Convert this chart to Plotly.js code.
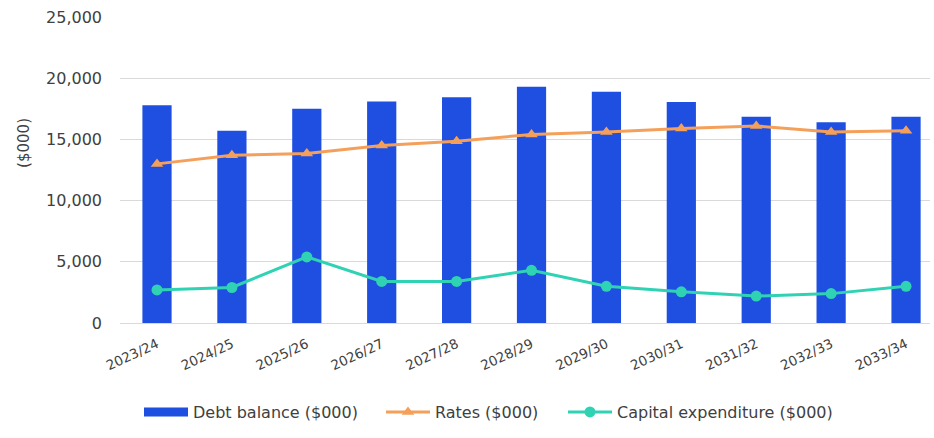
<!DOCTYPE html>
<html><head><meta charset="utf-8">
<script src="https://cdn.plot.ly/plotly-3.0.1.min.js"></script>
<style>html,body{margin:0;padding:0;background:#fff}#c{width:934px;height:438px}</style>
</head><body><div id="c"></div>
<script>
const categories = ["2023/24","2024/25","2025/26","2026/27","2027/28","2028/29","2029/30","2030/31","2031/32","2032/33","2033/34"];
const debtBalance = [17800,15700,17500,18100,18450,19300,18900,18050,16850,16400,16850];
const rates = [13000,13700,13850,14500,14850,15400,15600,15900,16100,15600,15700];
const capex = [2700,2900,5400,3400,3400,4300,3000,2550,2200,2400,3000];
const yTicks = [0,5000,10000,15000,20000,25000];
const yTickLabels = ["0","5,000","10,000","15,000","20,000","25,000"];

const fontFam = "'DejaVu Sans', sans-serif";
const blue = '#1f4fe0', orange = '#f5a05a', teal = '#2fd3b3';
const traces = [
  {type:'bar', name:'Debt balance ($000)', x:categories, y:debtBalance,
   marker:{color:blue}, showlegend:false, legendgroup:'debt'},
  {type:'scatter', mode:'lines', name:'Debt balance ($000)', x:[null], y:[null],
   line:{color:blue, width:9}, legendgroup:'debt', legend:'legend', showlegend:true},
  {type:'scatter', mode:'lines+markers', name:'Rates ($000)', x:categories, y:rates,
   line:{color:orange, width:3}, marker:{symbol:'triangle-up', size:11, color:orange}, legend:'legend2'},
  {type:'scatter', mode:'lines+markers', name:'Capital expenditure ($000)', x:categories, y:capex,
   line:{color:teal, width:3}, marker:{symbol:'circle', size:11, color:teal}, legend:'legend3'}
];
function leg(xpx){
  return {orientation:'h', xref:'container', yref:'container', x:xpx/934, y:1-412/438,
          xanchor:'left', yanchor:'middle', font:{size:16, color:'#404040', family:fontFam},
          itemwidth:44, bgcolor:'rgba(0,0,0,0)'};
}
const layout = {
  width:934, height:438,
  margin:{l:120, r:4, t:17, b:115},
  paper_bgcolor:'#fff', plot_bgcolor:'#fff',
  bargap:0.61,
  font:{family:fontFam, size:14, color:'#404040'},
  xaxis:{type:'category', range:[-0.494, 10.32], tickangle:-25, showgrid:false, zeroline:false, showline:false,
         ticks:'', ticklabelstandoff:10, tickfont:{size:13.5, color:'#404040'}},
  yaxis:{range:[0,25000], tickvals:yTicks, ticktext:yTickLabels, showgrid:true,
         gridcolor:'#d9d9d9', gridwidth:1, zeroline:true, zerolinecolor:'#d9d9d9',
         ticks:'', ticklabelstandoff:17, tickfont:{size:16, color:'#404040'}},
  showlegend:true,
  legend:leg(139), legend2:leg(381), legend3:leg(563),
  annotations:[{text:'($000)', xref:'paper', yref:'paper', x:-0.118, y:0.59,
                textangle:-90, showarrow:false, font:{size:15, color:'#404040'},
                xanchor:'center', yanchor:'middle'}]
};
Plotly.newPlot('c', traces, layout, {displayModeBar:false, staticPlot:true});
</script></body></html>
